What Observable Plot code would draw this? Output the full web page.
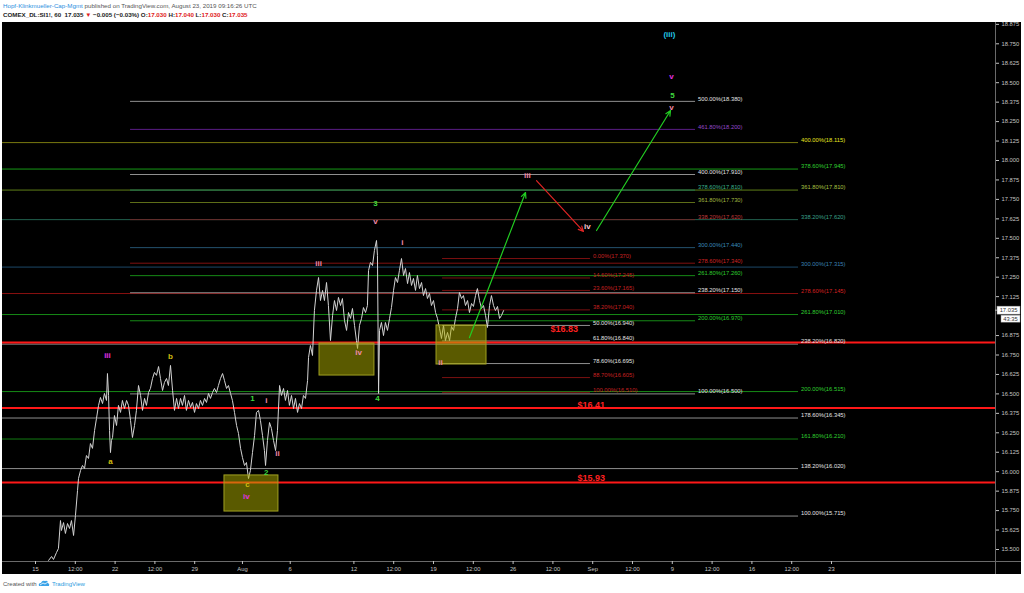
<!DOCTYPE html>
<html><head><meta charset="utf-8">
<script src="https://cdn.jsdelivr.net/npm/d3@7"></script>
<script src="https://cdn.jsdelivr.net/npm/@observablehq/plot@0.6"></script>
<style>
html,body{margin:0;padding:0;background:#fff;width:1024px;height:593px;overflow:hidden;font-family:"Liberation Sans",Arial,sans-serif;}
.hl{position:absolute;left:3px;white-space:nowrap;font-size:6.2px;line-height:8px;}
#chart{position:absolute;left:2px;top:22px;}
#ftr{position:absolute;left:3px;top:580px;font-size:6px;line-height:8px;color:#555;white-space:nowrap;}
</style></head><body>
<div class="hl" style="top:2px;color:#555"><span style="color:#2a8fe0">Hopf-Klinkmueller-Cap-Mgmt</span> published on TradingView.com, August 23, 2019 09:16:26 UTC</div>
<div class="hl" style="top:11px;color:#222;font-weight:bold">COMEX_DL:SI1!, 60&nbsp; 17.035 <span style="color:#e02020">▼</span> −0.005 (−0.03%) O:<span style="color:#e02020">17.030</span> H:<span style="color:#e02020">17.040</span> L:<span style="color:#e02020">17.030</span> C:<span style="color:#e02020">17.035</span></div>
<div id="chart"></div>
<div id="ftr">Created with <svg width="12" height="7" viewBox="0 0 12 7" style="vertical-align:-1px"><path d="M1 6 Q0 3 3 3 Q4 0 7 1 Q10 0 10 3 Q12 4 11 6 Z" fill="#3ba3e8"/><path d="M2 5 L5 3 L7 4 L10 2" stroke="#fff" stroke-width="0.8" fill="none"/></svg> <span style="color:#2a9be0">TradingView</span></div>
<script>
// ---- price series (60-min closes; t = trading days since Mon Jul 15) ----
const t = [0.82,1.01,1.13,1.32,1.44,1.57,1.63,1.76,1.88,2.01,2.14,2.26,2.39,2.51,2.64,2.70,2.83,2.95,3.08,3.20,3.33,3.45,3.58,3.71,3.83,3.96,4.08,4.21,4.33,4.46,4.52,4.59,4.65,4.71,4.77,4.84,4.96,5.09,5.21,5.34,5.46,5.59,5.72,5.84,5.97,6.09,6.22,6.34,6.47,6.60,6.72,6.85,6.97,7.10,7.22,7.35,7.47,7.60,7.73,7.85,7.98,8.10,8.23,8.35,8.48,8.61,8.73,8.86,8.98,9.11,9.23,9.36,9.48,9.61,9.74,9.86,9.99,10.11,10.24,10.36,10.49,10.62,10.74,10.87,10.99,11.12,11.24,11.37,11.49,11.62,11.75,11.87,12.00,12.12,12.25,12.37,12.50,12.63,12.75,12.88,13.00,13.13,13.25,13.38,13.50,13.63,13.76,13.88,14.01,14.13,14.26,14.38,14.45,14.57,14.70,14.82,14.95,15.08,15.20,15.33,15.45,15.58,15.70,15.83,15.95,16.08,16.21,16.33,16.46,16.58,16.71,16.83,16.96,17.09,17.15,17.27,17.40,17.52,17.65,17.78,17.90,18.03,18.15,18.28,18.40,18.53,18.66,18.78,18.91,19.03,19.16,19.28,19.41,19.54,19.66,19.79,19.91,20.04,20.16,20.23,20.35,20.48,20.60,20.73,20.85,20.92,21.04,21.17,21.29,21.42,21.48,21.55,21.61,21.73,21.86,21.98,22.11,22.24,22.36,22.49,22.61,22.74,22.86,22.99,23.12,23.24,23.37,23.49,23.62,23.74,23.87,23.99,24.12,24.25,24.37,24.50,24.62,24.75,24.87,25.00,25.13,25.25,25.38,25.50,25.63,25.75,25.88,26.01,26.13,26.26,26.38,26.51,26.63,26.76,26.88,27.01,27.14,27.26,27.39,27.51,27.64,27.76,27.89,28.02,28.14,28.27,28.39,28.52,28.64,28.77,28.89,29.02,29.15,29.27,29.40];
const close = [15.43,15.455,15.436,15.481,15.506,15.686,15.622,15.673,15.603,15.667,15.635,15.686,15.590,15.719,15.879,15.956,16.008,16.040,16.021,16.104,16.085,16.181,16.150,16.265,16.342,16.426,16.477,16.438,16.503,16.458,16.631,16.490,16.265,16.123,16.201,16.220,16.361,16.297,16.426,16.381,16.458,16.406,16.458,16.426,16.329,16.220,16.297,16.394,16.554,16.490,16.394,16.471,16.426,16.509,16.535,16.599,16.638,16.619,16.676,16.599,16.522,16.573,16.599,16.554,16.683,16.522,16.394,16.471,16.406,16.471,16.426,16.490,16.394,16.458,16.413,16.445,16.381,16.438,16.406,16.458,16.426,16.471,16.445,16.503,16.471,16.509,16.535,16.509,16.554,16.599,16.631,16.586,16.535,16.554,16.503,16.458,16.381,16.297,16.246,16.150,16.091,16.040,16.059,15.956,16.008,16.123,16.233,16.381,16.394,16.329,16.233,16.136,16.040,16.201,16.316,16.278,16.201,16.136,16.265,16.554,16.490,16.535,16.458,16.522,16.426,16.490,16.406,16.471,16.381,16.438,16.406,16.490,16.471,16.586,16.734,16.811,16.747,17.036,17.165,17.248,17.100,17.165,17.100,17.216,17.068,16.843,17.004,17.100,17.036,17.120,17.068,17.113,16.972,16.908,17.023,16.985,17.049,16.940,16.843,16.792,16.940,16.985,17.055,17.023,17.068,17.293,17.345,17.325,17.422,17.486,17.390,16.503,16.908,16.959,16.875,16.959,16.908,16.985,17.055,17.165,17.248,17.216,17.293,17.370,17.261,17.306,17.209,17.280,17.197,17.242,17.165,17.261,17.177,17.216,17.132,17.177,17.113,17.145,17.068,17.100,17.023,16.985,16.921,16.856,16.940,16.843,16.895,16.843,16.933,16.908,16.985,17.049,17.152,17.113,17.132,17.068,17.100,17.023,17.081,17.062,17.132,17.177,17.100,17.049,17.068,17.004,16.927,17.068,17.132,17.068,17.036,17.062,16.985,17.004,17.035];

// ---- Fibonacci level sets ----
const pctA = ["500.00%","461.80%","400.00%","378.60%","361.80%","338.20%","300.00%","278.60%","261.80%","238.20%","200.00%","100.00%"];
const valA = [18.380,18.200,17.910,17.810,17.730,17.620,17.440,17.340,17.260,17.150,16.970,16.500];
const spanA = [5.97,41.46];
const pctB = ["400.00%","378.60%","361.80%","338.20%","300.00%","278.60%","261.80%","238.20%","200.00%","178.60%","161.80%","138.20%","100.00%"];
const valB = [18.115,17.945,17.810,17.620,17.315,17.145,17.010,16.820,16.515,16.345,16.210,16.020,15.715];
const spanB = [-2.073,47.93];
const pctC = ["0.00%","14.60%","23.60%","38.20%","50.00%","61.80%","78.60%","88.70%","100.00%"];
const valC = [17.370,17.245,17.165,17.040,16.940,16.840,16.695,16.605,16.510];
const spanC = [25.57,34.86];

// ---- key horizontal levels ----
const keyLevels = [16.83,16.41,15.93];
const keyText = ["$16.83","$16.41","$15.93"];
const keyTextAt = [[32.35,16.914],[34.05,16.426],[34.05,15.956]];

// ---- zones ----
const zoneT1 = [11.87,17.84,25.19], zoneT2 = [15.26,21.29,28.33];
const zoneHi = [15.976,16.824,16.940], zoneLo = [15.744,16.618,16.689];

// ---- projected path arrows ----
const arrT1 = [27.26,31.47,35.24], arrP1 = [16.862,17.871,17.550];
const arrT2 = [30.78,34.42,39.89], arrP2 = [17.794,17.544,18.321];
const arrKind = ["up","down","up"];

// ---- wave labels ----
const waveText = ["(iii)","v","5","v","iii","iv","3","v","i","iii","iv","4","ii","iii","b","a","1","i","ii","2","c","iv"];
const waveT = [39.82,39.95,40.01,39.95,30.90,34.67,21.36,21.36,23.05,17.78,20.29,21.48,25.44,4.52,8.48,4.71,13.63,14.50,15.20,14.50,13.32,13.25];
const waveP = [18.810,18.540,18.417,18.340,17.904,17.576,17.722,17.606,17.471,17.336,16.764,16.468,16.700,16.748,16.740,16.066,16.468,16.455,16.115,15.993,15.915,15.839];
const waveDeg = ["cyan","magenta","green","pink","pink","pale","green","pink","pink","pink","pink","green","pink","magenta","yellow","yellow","green","pink","pink","green","yellow","magenta"];

// ---- axes ----
const yTicks = [15.5,15.625,15.75,15.875,16,16.125,16.25,16.375,16.5,16.625,16.75,16.875,17.125,17.25,17.375,17.5,17.625,17.75,17.875,18,18.125,18.25,18.375,18.5,18.625,18.75,18.875];
const xTickVals = [0,2.5,5,7.5,10,13,16,20,22.5,25,27.5,30,32.5,35,37.5,40,42.5,45,47.5,50];
const xTickText = ["15","12:00","22","12:00","29","Aug","6","12","12:00","19","12:00","26","12:00","Sep","12:00","9","12:00","16","12:00","23"];
const lastPrice = 17.035, countdown = "43:35";

// ---- styles (kept apart from data) ----
const GREY = "#8f8f8f", WHITE = "#e4e4e4";
const lineA = [GREY,"#5b1d86",GREY,"#1f7a5a","#5e6e18","#6b2828","#24526e","#7e1010","#168a16",GREY,"#168a16",GREY];
const textA = [WHITE,"#9548c8",WHITE,"#3ab08a","#a0b840","#c03a3a","#3a8abc","#d02424","#2ecc2e",WHITE,"#2ecc2e",WHITE];
const lineB = ["#7a7a10","#169a16","#5e7e18","#22604e","#1c4868","#8a1010","#168a16",GREY,"#168a16",GREY,"#127a12",GREY,GREY];
const textB = ["#e8e820","#30d030","#a8c040","#3aa08a","#3a80b4","#d82020","#30d030",WHITE,"#30d030",WHITE,"#30d030",WHITE,WHITE];
const lineC = ["#7a1010","#7a1010","#7a1010","#7a1010",GREY,GREY,GREY,"#7a1010","#7a1010"];
const textC = ["#c82020","#c82020","#c82020","#c82020",WHITE,WHITE,WHITE,"#c82020","#c82020"];
const waveColor = {cyan:"#22c8e8",magenta:"#e030e0",green:"#3ed83e",pink:"#f28aa8",pale:"#f6c6d0",yellow:"#d0bc10"};
const arrowColor = {up:"#22cc22",down:"#e02424"};

// ---- build tables ----
const xDom = [-2.073, 60.302];
const yDom = [15.4229, 18.8869];
const W = 1019, H = 552, MR = 26, MB = 13;
const series = t.map((d, i) => ({t: d, c: close[i]}));
const mk = (pcts, vals, span, lc, tc) => pcts.map((p, i) => ({pct: p, v: vals[i], x1: span[0], x2: span[1], line: lc[i], text: tc[i]}));
const fibs = [...mk(pctB, valB, spanB, lineB, textB), ...mk(pctA, valA, spanA, lineA, textA), ...mk(pctC, valC, spanC, lineC, textC)];
const keys = keyLevels.map((v, i) => ({v, label: keyText[i], x: keyTextAt[i][0], y: keyTextAt[i][1]}));
const zones = zoneT1.map((d, i) => ({x1: d, x2: zoneT2[i], y1: zoneLo[i], y2: zoneHi[i]}));
const arrows = arrT1.map((d, i) => ({x1: d, y1: arrP1[i], x2: arrT2[i], y2: arrP2[i], c: arrowColor[arrKind[i]]}));
const waves = waveText.map((s, i) => ({s, x: waveT[i], y: waveP[i], c: waveColor[waveDeg[i]]}));
const xLabel = new Map(xTickVals.map((v, i) => [v, xTickText[i]]));
const xExt = xDom[1] + (xDom[1] - xDom[0]) * MR / (W - MR);
const yExt = yDom[0] - (yDom[1] - yDom[0]) * MB / (H - MB);

const plot = Plot.plot({
  width: W, height: H,
  marginTop: 0, marginLeft: 0, marginRight: MR, marginBottom: MB,
  style: {background: "#000", color: "#c4c4c4", fontFamily: "Liberation Sans, Arial, sans-serif"},
  x: {domain: xDom},
  y: {domain: yDom},
  color: {type: "identity"},
  marks: [
    Plot.ruleY(fibs, {y: "v", x1: "x1", x2: "x2", stroke: "line", strokeWidth: 1}),
    Plot.ruleY(keys, {y: "v", x1: () => xDom[0], x2: () => xDom[1], stroke: "#ff1818", strokeWidth: 2}),
    Plot.line(series, {x: "t", y: "c", stroke: "#d4d4d4", strokeWidth: 1}),
    Plot.rect(zones, {x1: "x1", x2: "x2", y1: "y1", y2: "y2", fill: "#b4b400", fillOpacity: 0.5, stroke: "#a0a020", strokeWidth: 1}),
    Plot.arrow(arrows, {x1: "x1", y1: "y1", x2: "x2", y2: "y2", stroke: "c", strokeWidth: 1.2, headLength: 7, headAngle: 50}),
    Plot.text(fibs, {x: "x2", y: "v", text: d => `${d.pct}(${d.v.toFixed(3)})`, fill: "text", textAnchor: "start", dx: 2.5, dy: -2.5, fontSize: 5.8}),
    Plot.text(keys, {x: "x", y: "y", text: "label", fill: "#ff2020", textAnchor: "start", fontWeight: "bold", fontSize: 9}),
    Plot.text(waves, {x: "x", y: "y", text: "s", fill: "c", fontWeight: "bold", fontSize: 8}),
    Plot.ruleX([xDom[1]], {y1: yExt, y2: yDom[1], stroke: "#6a6a6a"}),
    Plot.ruleY([yDom[0]], {x1: xDom[0], x2: xExt, stroke: "#6a6a6a"}),
    Plot.axisY({anchor: "right", ticks: yTicks, tickFormat: d => d.toFixed(3), tickSize: 3, tickPadding: 3, fontSize: 5.8}),
    Plot.axisX({anchor: "bottom", ticks: xTickVals, tickFormat: d => xLabel.get(d), tickSize: 3, tickPadding: 2, fontSize: 5.8})
  ]
});
document.getElementById("chart").appendChild(plot);

// last price and countdown tags on the price axis
const ys = plot.scale("y").apply(lastPrice);
const xr = plot.scale("x").apply(xDom[1]);
const g = d3.select(plot).append("g").style("font-size", "5.8px").style("font-family", "Liberation Sans, Arial, sans-serif");
g.append("line").attr("x1", xr).attr("x2", xr + 2).attr("y1", ys).attr("y2", ys).attr("stroke", "#bbb");
g.append("rect").attr("x", xr + 2).attr("y", ys - 4).attr("width", W - xr - 3).attr("height", 8).attr("fill", "#fff").attr("stroke", "#999").attr("stroke-width", 0.5);
g.append("text").attr("x", (xr + 2 + W - 1) / 2).attr("y", ys).attr("dy", "0.35em").attr("text-anchor", "middle").style("fill", "#333").text(lastPrice.toFixed(3));
g.append("rect").attr("x", xr + 6).attr("y", ys + 5).attr("width", W - xr - 7).attr("height", 7).attr("fill", "#fff").attr("stroke", "#999").attr("stroke-width", 0.5);
g.append("text").attr("x", (xr + 6 + W - 1) / 2).attr("y", ys + 8.5).attr("dy", "0.35em").attr("text-anchor", "middle").style("fill", "#333").text(countdown);
</script>
</body></html>
